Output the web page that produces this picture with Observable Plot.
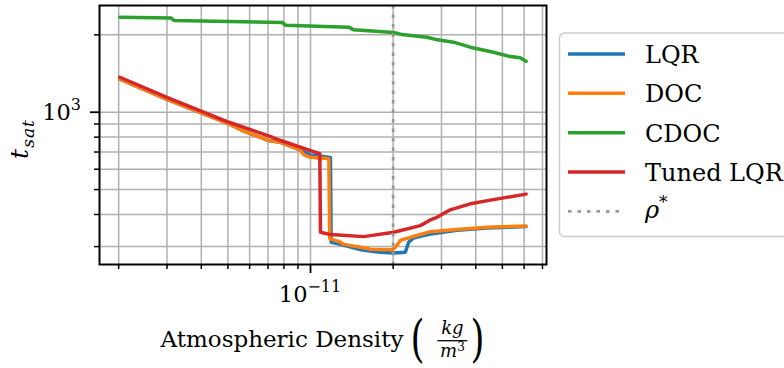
<!DOCTYPE html>
<html><head><meta charset="utf-8">
<script src="https://cdn.jsdelivr.net/npm/d3@7"></script>
<script src="https://cdn.jsdelivr.net/npm/@observablehq/plot@0.6"></script>
<style>
html,body{margin:0;padding:0;background:#fff;overflow:hidden;}
#chart{position:relative;width:784px;height:368px;}
#chart text, #chart tspan{font-family:"DejaVu Serif", serif;}
</style></head><body><div id="chart"></div>
<script>
// ---- data (density given in units of 1e-11 kg/m^3) ----
const densityUnit = 1e-11;
const seriesNames = ["LQR", "DOC", "CDOC", "Tuned LQR"];
const seriesColors = ["#1f77b4", "#ff7f0e", "#2ca02c", "#d62728"];

const lqrX = [0.202, 0.303, 0.505, 0.564, 0.705, 0.778, 0.895, 0.973, 1.0, 1.166, 1.182, 1.189, 1.286, 1.479, 1.563, 1.797, 2.009, 2.215, 2.278, 2.375, 2.582, 2.732, 3.416, 4.391, 6.10];
const lqrY = [1344, 1117, 901, 849, 776, 764, 720, 692, 682, 668, 667, 312, 306, 294, 290, 285, 283, 285, 312, 324, 331, 336, 347, 354, 359];

const docX = [0.202, 0.303, 0.505, 0.564, 0.705, 0.778, 0.895, 0.920, 0.945, 0.959, 1.0, 1.15, 1.166, 1.175, 1.286, 1.322, 1.563, 1.653, 1.982, 2.038, 2.125, 2.310, 2.732, 3.320, 4.391, 6.10];
const docY = [1344, 1117, 901, 849, 776, 764, 720, 710, 684, 678, 668, 660, 659, 322, 312, 306, 297, 293, 291.5, 298, 317, 326, 343, 349, 357, 361];

const cdocX = [0.202, 0.310, 0.318, 0.789, 0.811, 1.378, 1.437, 2.009, 2.156, 2.657, 2.90, 3.320, 3.818, 4.640, 5.337, 5.802, 6.10];
const cdocY = [2342, 2328, 2276, 2233, 2181, 2143, 2092, 2042, 2005, 1958, 1913, 1873, 1791, 1712, 1647, 1628, 1578];

const tunedX = [0.202, 0.303, 0.505, 0.716, 0.778, 0.907, 1.072, 1.081, 1.087, 1.182, 1.563, 2.009, 2.512, 2.732, 2.888, 3.229, 3.818, 4.640, 6.10];
const tunedY = [1368, 1137, 914, 804, 776, 735, 692, 690, 341, 334, 328, 341, 362, 381, 390, 417, 440, 457, 480];

const rhoStar = [2.0e-11];
const rhoLabel = "ρ";

const xMajorTicks = [1e-11];
const xMinorTicks = [2e-12, 3e-12, 4e-12, 5e-12, 6e-12, 7e-12, 8e-12, 9e-12, 2e-11, 3e-11, 4e-11, 5e-11, 6e-11, 7e-11];
const yMajorTicks = [1000];
const yMinorTicks = [300, 400, 500, 600, 700, 800, 900, 2000];
const xTickLabel = {base: "10", exp: "−11"};
const yTickLabel = {base: "10", exp: "3"};
const xAxisTitle = "Atmospheric Density";
const unitNum = "kg", unitDen = "m", unitDenExp = "3";

// ---- build table ----
const seriesX = [lqrX, docX, cdocX, tunedX];
const seriesY = [lqrY, docY, cdocY, tunedY];
const rows = [];
seriesNames.forEach((name, i) => {
  seriesX[i].forEach((x, j) => rows.push({series: name, rho: x * densityUnit, t: seriesY[i][j]}));
});

const FONT = '"DejaVu Serif", serif';

const plot = Plot.plot({
  width: 784, height: 368,
  marginLeft: 99, marginRight: 238, marginTop: 5, marginBottom: 104,
  style: {background: "white", color: "black"},
  x: {type: "log", domain: [1.703e-12, 7.24e-11]},
  y: {type: "log", domain: [255.5, 2602]},
  color: {domain: seriesNames, range: seriesColors},
  marks: [
    Plot.gridX(xMinorTicks.concat(xMajorTicks), {stroke: "#b0b0b0", strokeOpacity: 1, strokeWidth: 1.5}),
    Plot.gridY(yMinorTicks.concat(yMajorTicks), {stroke: "#b0b0b0", strokeOpacity: 1, strokeWidth: 1.5}),
    Plot.line(rows, {x: "rho", y: "t", z: "series", stroke: "series", strokeWidth: 3.5, strokeLinejoin: "round"}),
    Plot.ruleX(rhoStar, {stroke: "#999999", strokeWidth: 2.8, strokeDasharray: "3.5,6"}),
    Plot.axisX(xMinorTicks, {tickSize: 5, strokeWidth: 1.5, tickFormat: () => "", label: null}),
    Plot.axisX(xMajorTicks, {tickSize: 9, strokeWidth: 1.8, tickFormat: () => "", label: null}),
    Plot.axisY(yMinorTicks, {tickSize: 5, strokeWidth: 1.5, tickFormat: () => "", label: null}),
    Plot.axisY(yMajorTicks, {tickSize: 9, strokeWidth: 1.8, tickFormat: () => "", label: null}),
    Plot.frame({stroke: "black", strokeWidth: 2})
  ]
});
document.getElementById("chart").appendChild(plot);

const svg = d3.select(plot);
const xs = plot.scale("x"), ys = plot.scale("y");
const g = svg.append("g").style("font-family", FONT).attr("fill", "black").attr("text-anchor", "start");

// tick labels
const xt = g.append("text").attr("x", xs.apply(xMajorTicks[0])).attr("y", 301.7)
  .attr("text-anchor", "middle").attr("font-size", 22.5);
xt.append("tspan").text(xTickLabel.base);
xt.append("tspan").attr("dy", -10).attr("font-size", 16).text(xTickLabel.exp);

const yt = g.append("text").attr("x", 81).attr("y", ys.apply(yMajorTicks[0]) + 8.5)
  .attr("text-anchor", "end").attr("font-size", 22.5);
yt.append("tspan").text(yTickLabel.base);
yt.append("tspan").attr("dy", -10).attr("font-size", 16).text(yTickLabel.exp);

// y axis title t_sat
const yl = g.append("text").attr("transform", "translate(28,139) rotate(-90)")
  .attr("text-anchor", "middle").attr("font-style", "italic").attr("font-size", 25);
yl.append("tspan").text("t");
yl.append("tspan").attr("dy", 6).attr("dx", 1).attr("font-size", 17).attr("letter-spacing", 1).text("sat");

// x axis title with fraction
const xl = g.append("text").attr("x", 0).attr("y", 347.3).attr("font-size", 23)
  .attr("text-anchor", "start").text(xAxisTitle);
const W = xl.node().getComputedTextLength();
const S = 321 - (W + 78) / 2;
xl.attr("x", S);
const E = S + W;
const parenSize = 50;
g.append("text").attr("transform", `translate(${E + 7},356) scale(0.72,1)`)
  .attr("font-size", parenSize).attr("text-anchor", "start").text("(");
g.append("text").attr("x", E + 49).attr("y", 333.5).attr("text-anchor", "middle")
  .attr("font-size", 18).attr("font-style", "italic").text(unitNum);
g.append("line").attr("x1", E + 34).attr("x2", E + 64).attr("y1", 340.7).attr("y2", 340.7)
  .attr("stroke", "black").attr("stroke-width", 1.3);
const den = g.append("text").attr("x", E + 49).attr("y", 357.3).attr("text-anchor", "middle")
  .attr("font-size", 18);
den.append("tspan").attr("font-style", "italic").text(unitDen);
den.append("tspan").attr("dy", -6).attr("font-size", 12).text(unitDenExp);
g.append("text").attr("transform", `translate(${E + 67},356) scale(0.72,1)`)
  .attr("font-size", parenSize).attr("text-anchor", "start").text(")");

// legend
const lg = svg.append("g").style("font-family", FONT).attr("text-anchor", "start").attr("fill", "black");
lg.append("rect").attr("x", 559.5).attr("y", 33).attr("width", 260).attr("height", 203.5)
  .attr("rx", 5).attr("fill", "white").attr("fill-opacity", 0.8)
  .attr("stroke", "#cccccc").attr("stroke-width", 1.5);
const ly0 = 54, ldy = 39.33;
seriesNames.forEach((name, i) => {
  const y = ly0 + i * ldy;
  lg.append("line").attr("x1", 568).attr("x2", 625).attr("y1", y).attr("y2", y)
    .attr("stroke", seriesColors[i]).attr("stroke-width", 3.5);
  lg.append("text").attr("x", 645).attr("y", y + 9).attr("font-size", 24)
    .attr("text-anchor", "start").text(name);
});
{
  const y = ly0 + 4 * ldy;
  lg.append("line").attr("x1", 568).attr("x2", 625).attr("y1", y).attr("y2", y)
    .attr("stroke", "#999999").attr("stroke-width", 2.8).attr("stroke-dasharray", "3.5,6");
  const t = lg.append("text").attr("x", 645).attr("y", y + 7).attr("font-size", 24).attr("text-anchor", "start");
  t.append("tspan").attr("font-style", "italic").text(rhoLabel);
  t.append("tspan").attr("dy", -10).attr("font-size", 17).text("*");
}
</script></body></html>
